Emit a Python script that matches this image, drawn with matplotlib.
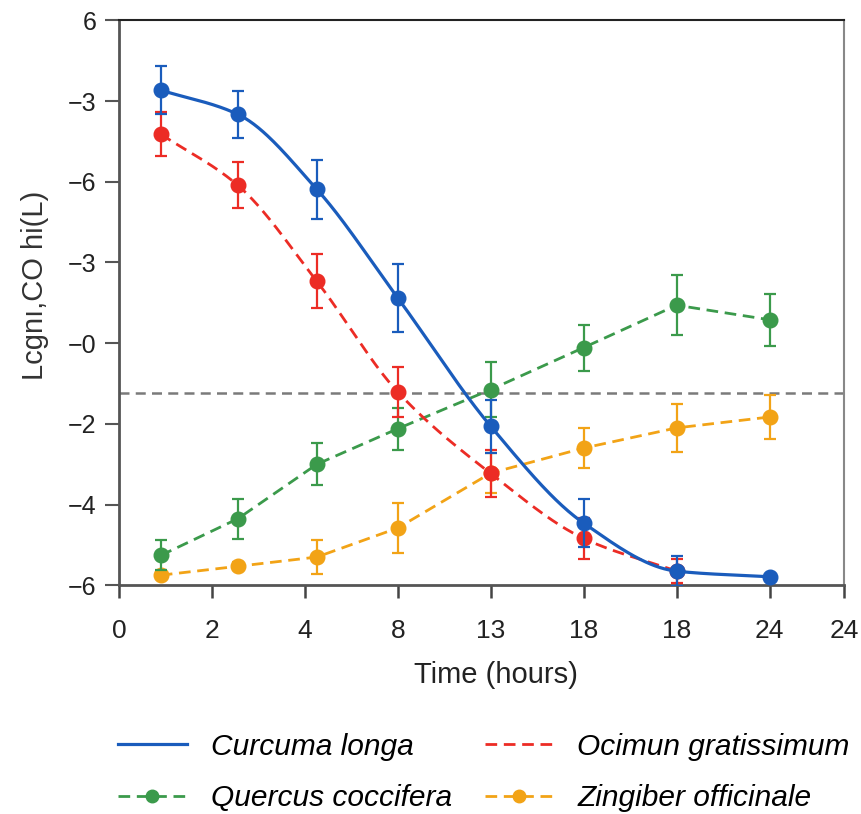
import numpy as np
import matplotlib
matplotlib.use("Agg")
import matplotlib.pyplot as plt
from matplotlib import font_manager
from matplotlib.lines import Line2D

# ---------------- data ----------------
# x positions of the sampling points on the (category-like) time axis
time_pos = [0.45, 1.28, 2.13, 3.0, 4.0, 5.0, 6.0, 7.0]
x_tick_pos = [0, 1, 2, 3, 4, 5, 6, 7, 7.8]
x_tick_labels = ["0", "2", "4", "8", "13", "18", "18", "24", "24"]

y_tick_pos = [-6, -4, -2, 0, 2, 4, 6, 8]
y_tick_labels = ["\u22126", "\u22124", "\u22122", "\u22120", "\u22123", "\u22126", "\u22123", "6"]

curcuma = [6.27, 5.67, 3.81, 1.12, -2.06, -4.46, -5.65, -5.79]
curcuma_err = [0.59, 0.59, 0.74, 0.84, 0.65, 0.59, 0.37, 0.0]

ocimun = [5.18, 3.91, 1.53, -1.21, -3.23, -4.84, -5.65]
ocimun_err = [0.55, 0.57, 0.67, 0.62, 0.59, 0.50, 0.30]

quercus = [-5.26, -4.35, -3.00, -2.12, -1.15, -0.11, 0.94, 0.58]
quercus_err = [0.37, 0.50, 0.52, 0.52, 0.69, 0.57, 0.74, 0.64]

zingiber = [-5.75, -5.53, -5.30, -4.58, -3.22, -2.60, -2.10, -1.83]
zingiber_err = [0.08, 0.10, 0.42, 0.62, 0.50, 0.50, 0.59, 0.55]

threshold = -1.23

names = ["Curcuma longa", "Ocimun gratissimum", "Quercus coccifera", "Zingiber officinale"]
colors = ["#1a5cbc", "#ec2c25", "#3b9a4b", "#f2a316"]


# --------------- helpers ---------------
def pchip(x, y, xs):
    x = np.asarray(x, float)
    y = np.asarray(y, float)
    h = np.diff(x)
    d = np.diff(y) / h
    n = len(x)
    m = np.zeros(n)
    for k in range(1, n - 1):
        if d[k - 1] * d[k] <= 0:
            m[k] = 0.0
        else:
            w1 = 2 * h[k] + h[k - 1]
            w2 = h[k] + 2 * h[k - 1]
            m[k] = (w1 + w2) / (w1 / d[k - 1] + w2 / d[k])
    m[0] = d[0]
    m[-1] = d[-1]
    out = np.empty_like(xs)
    for i, xv in enumerate(xs):
        k = min(max(np.searchsorted(x, xv) - 1, 0), n - 2)
        t = (xv - x[k]) / h[k]
        h00 = 2 * t**3 - 3 * t**2 + 1
        h10 = t**3 - 2 * t**2 + t
        h01 = -2 * t**3 + 3 * t**2
        h11 = t**3 - t**2
        out[i] = h00 * y[k] + h10 * h[k] * m[k] + h01 * y[k + 1] + h11 * h[k] * m[k + 1]
    return out


available = {f.name for f in font_manager.fontManager.ttflist}
base_font = "Liberation Sans" if "Liberation Sans" in available else "DejaVu Sans"
plt.rcParams["font.family"] = [base_font, "DejaVu Sans"]

# --------------- figure ---------------
fig = plt.figure(figsize=(8.62, 8.14), dpi=100)
ax = fig.add_axes([0.138, 0.281, 0.841, 0.694])

dash = (0, (4.2, 2.4))
lw = 2.0
ms = 10.5
ebkw = dict(capsize=4, elinewidth=1.6, capthick=1.6)

# Zingiber (orange)
ax.plot(time_pos, zingiber, linestyle=dash, color=colors[3], lw=lw, zorder=2)
ax.errorbar(time_pos, zingiber, yerr=zingiber_err, fmt="o", color=colors[3],
            ms=ms, zorder=3, **ebkw)

# Quercus (green)
ax.plot(time_pos, quercus, linestyle=dash, color=colors[2], lw=lw, zorder=4)
ax.errorbar(time_pos, quercus, yerr=quercus_err, fmt="o", color=colors[2],
            ms=ms, zorder=5, **ebkw)

# Ocimun (red) smooth dashed
n_oc = len(ocimun)
xr = np.linspace(time_pos[0], time_pos[n_oc - 1], 300)
ax.plot(xr, pchip(time_pos[:n_oc], ocimun, xr), linestyle=dash,
        color=colors[1], lw=lw, zorder=6)
ax.errorbar(time_pos[:n_oc], ocimun, yerr=ocimun_err, fmt="o",
            color=colors[1], ms=ms, zorder=7, **ebkw)

# Curcuma (blue) smooth solid
xb = np.linspace(time_pos[0], time_pos[-1], 400)
ax.plot(xb, pchip(time_pos, curcuma, xb), "-", color=colors[0], lw=2.3, zorder=8)
ax.errorbar(time_pos, curcuma, yerr=curcuma_err, fmt="o", color=colors[0],
            ms=ms, zorder=9, **ebkw)

# threshold
ax.axhline(threshold, color="#7a7a7a", lw=1.8, linestyle=(0, (4, 2.5)), zorder=1)

# axes
ax.set_xlim(0, 7.8)
ax.set_ylim(-6, 8)
ax.set_xticks(x_tick_pos)
ax.set_xticklabels(x_tick_labels, fontsize=19)
ax.set_yticks(y_tick_pos)
ax.set_yticklabels(y_tick_labels, fontsize=18)
ax.tick_params(axis="y", direction="out", length=10, width=1.5, color="#555555",
               pad=6, labelcolor="#222222")
ax.tick_params(axis="x", direction="out", length=9, width=1.8, color="#444444",
               pad=15, labelcolor="#222222")

for s in ["left", "bottom"]:
    ax.spines[s].set_color("#555555")
    ax.spines[s].set_linewidth(2.0)
ax.spines["top"].set_color("#222222")
ax.spines["top"].set_linewidth(1.5)
ax.spines["right"].set_color("#888888")
ax.spines["right"].set_linewidth(1.5)

ax.set_xlabel("Time (hours)", fontsize=21, color="#222222")
ax.xaxis.set_label_coords(0.52, -0.134)
ax.set_ylabel("Lcgn\u0131,CO hi(L)", fontsize=21, color="#333333")
ax.yaxis.set_label_coords(-0.097, 0.53)

# legend
handles = [
    Line2D([], [], color=colors[0], lw=2.3, linestyle="-"),
    Line2D([], [], color=colors[2], lw=2.0, linestyle=dash, marker="o", ms=9),
    Line2D([], [], color=colors[1], lw=2.0, linestyle=dash),
    Line2D([], [], color=colors[3], lw=2.0, linestyle=dash, marker="o", ms=9),
]
labels = [names[0], names[2], names[1], names[3]]
fig.legend(handles, labels, loc="center left", bbox_to_anchor=(118 / 862, 0.051),
           ncol=2, frameon=False, borderpad=0, borderaxespad=0,
           handlelength=2.3, handletextpad=0.8, columnspacing=1.1,
           labelspacing=0.8, prop={"style": "italic", "size": 21.5})

fig.savefig("out.png", dpi=100)
